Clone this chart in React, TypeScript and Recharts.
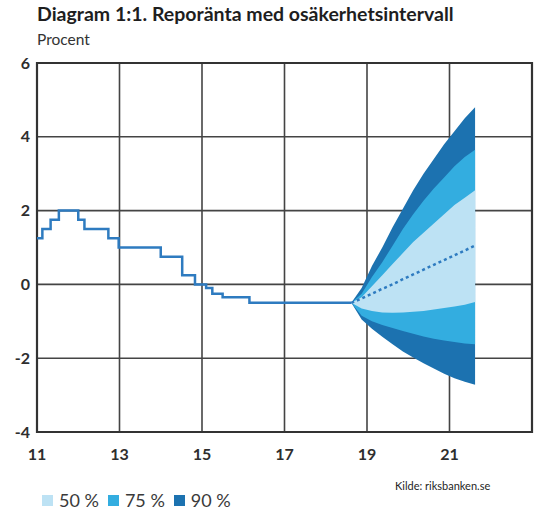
import {
    ComposedChart,
    Area,
    Line,
    XAxis,
    YAxis,
    CartesianGrid,
    ReferenceArea,
} from "recharts";

// repo rate history (year, percent)
const historyYears = [11.0, 11.13, 11.33, 11.53, 12.0, 12.15, 12.73, 12.98, 14.0, 14.52, 14.83, 15.1, 15.25, 15.5, 16.15, 18.62];
const historyRate = [1.25, 1.5, 1.75, 2.0, 1.75, 1.5, 1.25, 1.0, 0.75, 0.25, 0, -0.1, -0.25, -0.35, -0.5, -0.5];

// forecast with uncertainty bands
const forecastYears = [18.62, 18.87, 19.12, 19.37, 19.62, 19.87, 20.12, 20.37, 20.62, 20.87, 21.12, 21.37, 21.62];
const median = [-0.5, -0.38, -0.25, -0.12, 0.0, 0.14, 0.27, 0.4, 0.53, 0.66, 0.79, 0.92, 1.05];
const upper50 = [-0.5, -0.35, -0.05, 0.25, 0.55, 0.85, 1.15, 1.4, 1.65, 1.9, 2.15, 2.35, 2.55];
const lower50 = [-0.5, -0.65, -0.72, -0.76, -0.77, -0.76, -0.74, -0.72, -0.68, -0.64, -0.6, -0.55, -0.48];
const upper75 = [-0.5, -0.25, 0.2, 0.6, 1.05, 1.5, 1.9, 2.27, 2.6, 2.9, 3.2, 3.45, 3.65];
const lower75 = [-0.5, -0.85, -1.0, -1.1, -1.18, -1.26, -1.34, -1.41, -1.47, -1.52, -1.56, -1.6, -1.62];
const upper90 = [-0.5, -0.1, 0.5, 1.0, 1.55, 2.05, 2.55, 3.0, 3.4, 3.8, 4.15, 4.5, 4.8];
const lower90 = [-0.5, -0.95, -1.2, -1.42, -1.62, -1.82, -1.98, -2.14, -2.28, -2.42, -2.54, -2.64, -2.72];

const xTicks = [11, 13, 15, 17, 19, 21];
const yTicks = [-4, -2, 0, 2, 4, 6];

const legendItems = [
    { label: "50 %", color: "#bde2f4" },
    { label: "75 %", color: "#33ade0" },
    { label: "90 %", color: "#1c72b0" },
];

const chartData = [
    ...historyYears.map((year, i) => ({ year, rate: historyRate[i] })),
    ...forecastYears.map((year, i) => ({
        year,
        median: median[i],
        band50: [lower50[i], upper50[i]],
        band75: [lower75[i], upper75[i]],
        band90: [lower90[i], upper90[i]],
    })),
];

const font = "Lato, 'Open Sans', sans-serif";
const tickStyle = { fill: "#2e2e2e", fontSize: 16, fontWeight: 700, fontFamily: font };

export default function App() {
    return (
        <div
            style={{
                position: "absolute",
                left: 0,
                top: 0,
                width: 536,
                height: 512,
                background: "#ffffff",
                fontFamily: font,
                overflow: "hidden",
            }}
        >
            <div
                style={{
                    position: "absolute",
                    left: 37,
                    top: 2,
                    fontSize: 19.5,
                    fontWeight: 700,
                    color: "#1e1e1e",
                    whiteSpace: "nowrap",
                }}
            >
                Diagram 1:1. Reporänta med osäkerhetsintervall
            </div>
            <div
                style={{
                    position: "absolute",
                    left: 37,
                    top: 30,
                    fontSize: 15.5,
                    color: "#333333",
                }}
            >
                Procent
            </div>

            <ComposedChart
                width={536}
                height={512}
                data={chartData}
                margin={{ top: 63, right: 4, bottom: 50, left: 0 }}
            >
                <CartesianGrid stroke="#444444" strokeWidth={1.6} />

                <XAxis
                    dataKey="year"
                    type="number"
                    domain={[11, 23]}
                    ticks={xTicks}
                    allowDataOverflow
                    axisLine={false}
                    tickLine={false}
                    height={30}
                    tickMargin={11}
                    tick={tickStyle}
                />

                <YAxis
                    type="number"
                    domain={[-4, 6]}
                    ticks={yTicks}
                    allowDataOverflow
                    axisLine={false}
                    tickLine={false}
                    width={37}
                    tickMargin={1}
                    tick={tickStyle}
                />

                <Area
                    dataKey="band90"
                    stroke="none"
                    fill="#1c72b0"
                    fillOpacity={1}
                    isAnimationActive={false}
                />
                <Area
                    dataKey="band75"
                    stroke="none"
                    fill="#33ade0"
                    fillOpacity={1}
                    isAnimationActive={false}
                />
                <Area
                    dataKey="band50"
                    stroke="none"
                    fill="#bde2f4"
                    fillOpacity={1}
                    isAnimationActive={false}
                />

                <Line
                    dataKey="rate"
                    type="stepAfter"
                    stroke="#2e7bc0"
                    strokeWidth={2.5}
                    dot={false}
                    isAnimationActive={false}
                />
                <Line
                    dataKey="median"
                    type="linear"
                    stroke="#2e7bc0"
                    strokeWidth={2.5}
                    strokeDasharray="3 3"
                    dot={false}
                    isAnimationActive={false}
                />

                <ReferenceArea
                    x1={11}
                    x2={23}
                    y1={-4}
                    y2={6}
                    fill="none"
                    fillOpacity={0}
                    stroke="#333333"
                    strokeWidth={2.2}
                />
            </ComposedChart>

            <div
                style={{
                    position: "absolute",
                    left: 395,
                    top: 479,
                    fontSize: 11,
                    color: "#1e1e1e",
                }}
            >
                Kilde: riksbanken.se
            </div>

            <div
                style={{
                    position: "absolute",
                    left: 42,
                    top: 491,
                    display: "flex",
                    alignItems: "center",
                    gap: 9,
                    fontSize: 18,
                    lineHeight: "19px",
                    color: "#3a3a3a",
                }}
            >
                {legendItems.map((item) => (
                    <div
                        key={item.label}
                        style={{ display: "flex", alignItems: "center", gap: 6 }}
                    >
                        <span
                            style={{
                                display: "inline-block",
                                width: 11,
                                height: 11,
                                background: item.color,
                            }}
                        />
                        <span>{item.label}</span>
                    </div>
                ))}
            </div>
        </div>
    );
}
